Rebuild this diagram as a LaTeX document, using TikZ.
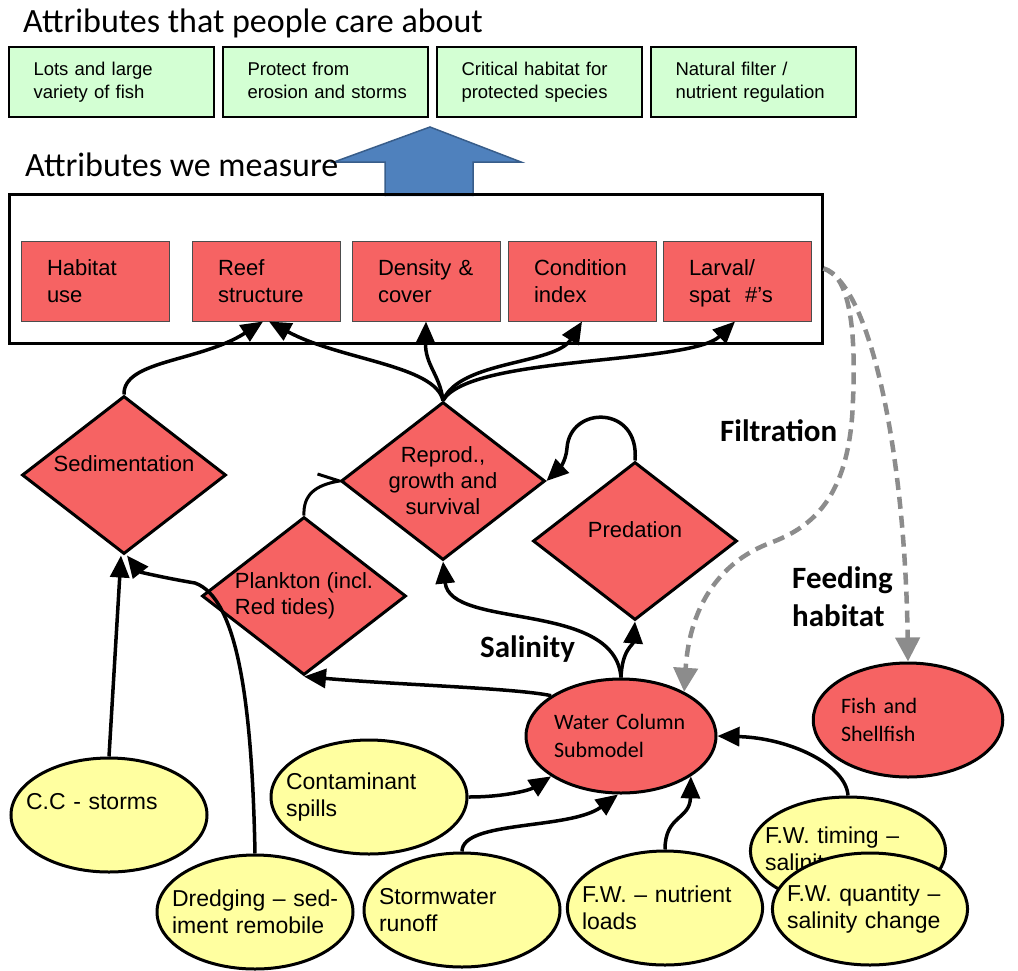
\documentclass[tikz,border=0pt]{standalone}
\usepackage{fontspec}
\setmainfont{Liberation Sans}
\newfontfamily\calibri{Carlito}
\usetikzlibrary{shapes.geometric,arrows.meta}

\definecolor{redfill}{RGB}{246,99,99}
\definecolor{yellowfill}{RGB}{255,255,160}
\definecolor{greenfill}{RGB}{211,255,211}
\definecolor{bluefill}{RGB}{79,129,189}
\definecolor{blueline}{RGB}{56,93,138}
\definecolor{flowgray}{RGB}{140,140,140}

\begin{document}
\begin{tikzpicture}[x=1pt, y=-1pt,
  care/.style={draw, line width=2.5pt, fill=greenfill, minimum width=205pt, minimum height=70pt, text width=156pt, align=left, font=\fontsize{18.5}{23}\selectfont},
  attr/.style={draw=black!70, line width=1pt, fill=redfill, minimum width=148pt, minimum height=80pt, text width=96pt, align=left, font=\fontsize{22}{27}\selectfont},
  proc/.style={diamond, aspect=1.3, draw, line width=3pt, fill=redfill, minimum width=204pt, minimum height=158pt, inner sep=0pt, align=center, font=\fontsize{22}{26}\selectfont},
  driver/.style={ellipse, draw, line width=3pt, fill=yellowfill, minimum width=196pt, minimum height=114pt, text width=166pt, inner xsep=-14pt, align=left, font=\fontsize{23}{27}\selectfont},
  submodel/.style={ellipse, draw, line width=3pt, fill=redfill, minimum width=190pt, minimum height=114pt, text width=134pt, inner xsep=0pt, align=left, font=\calibri\fontsize{22}{28}\selectfont},
  heading/.style={font=\calibri\fontsize{34}{40}\selectfont, inner sep=0pt},
  flowlabel/.style={font=\calibri\bfseries\fontsize{31}{38}\selectfont, inner sep=0pt, align=left},
  link/.style={line width=3pt},
  arr/.style={line width=3.5pt, -{Triangle[length=22pt,width=19pt]}},
  indirect/.style={line width=4.5pt, flowgray, dash pattern=on 12pt off 7pt, -{Triangle[length=24pt,width=24pt]}}
]

  \useasboundingbox (0,0) rectangle (1018,970);

  \draw[blueline, fill=bluefill, line width=1.5pt] (385,196) -- (385,162) -- (334,162) -- (430,127) -- (521,162) -- (473,162) -- (473,196);

  \node[heading, anchor=base west] (caretitle) at (23,32) {Attributes that people care about};
  \node[heading, anchor=base west] (meastitle) at (25,176) {Attributes we measure};

  \node[care] (wantfish) at (111.5,82) {Lots~and~large\\variety~of~fish};
  \node[care] (wantshore) at (325.5,82) {Protect~from\\\mbox{erosion and storms}\vphantom{y}};
  \node[care] (wanthabitat) at (539.5,82) {Critical~habitat~for\\protected~species};
  \node[care] (wantfilter) at (753.5,82) {Natural~filter~/\\nutrient~regulation};

  \node[draw, line width=3pt, minimum width=813pt, minimum height=149pt] (meas) at (415.5,268.5) {};

  \node[attr] (habuse) at (95,281) {Habitat\\use};
  \node[attr] (reef) at (266,281) {Reef\\structure};
  \node[attr] (dens) at (426,281) {Density~\&\\cover};
  \node[attr] (cond) at (582,281) {Condition\\index};
  \node[attr] (larv) at (737,281) {Larval/\\\smash{spat~~\#’s}};

  \node[proc, text depth=22pt] (sed) at (124,475) {Sedimentation};
  \node[proc] (rep) at (443,481) {Reprod.,\\growth~and\\survival};
  \node[proc, align=left] (plk) at (304,596) {Plankton~(incl.\\Red~tides)};
  \node[proc, text depth=22pt] (pred) at (635,541) {Predation};

  \node[submodel] (wc) at (621,736) {Water~Column\\Submodel};
  \node[submodel, minimum width=188pt] (fish) at (908,720) {Fish~and\\Shellfish};

  \node[driver, text depth=28pt] (cc) at (109,815) {C.C~-~storms};
  \node[driver] (dred) at (255,912) {\mbox{Dredging – sed-}\\\mbox{iment remobile}};
  \node[driver] (cont) at (369,797) {Contaminant\\spills};
  \node[driver] (storm) at (462,910) {Stormwater\\runoff};
  \node[driver, minimum width=190pt] (nutr) at (665,908) {\mbox{F.W. – nutrient}\\loads};
  \node[driver, minimum width=190pt, minimum height=108pt] (tim) at (848,851) {\mbox{F.W. timing –}\\salinity~timing};
  \node[driver, minimum width=188pt, minimum height=112pt] (quant) at (870,909) {\mbox{F.W. quantity –}\\salinity~change};

  \node[flowlabel, anchor=base west] (filt) at (720,441) {Filtration};
  \node[flowlabel, anchor=west] (feed) at (792,597) {Feeding\\habitat};
  \node[flowlabel, anchor=base west] (sal) at (480,657) {Salinity};

  \draw[arr] (sed.north) .. controls (123,360) and (200,362) .. ([xshift=-3pt]reef.south);
  \draw[arr] (rep.north) .. controls (435,365) and (340,360) .. ([xshift=3pt]reef.south);
  \draw[arr] (rep.north) .. controls (440,375) and (425,365) .. (dens.south);
  \draw[arr] (rep.north) .. controls (460,360) and (555,365) .. (cond.south);
  \draw[arr] (rep.north) .. controls (470,355) and (690,365) .. ([xshift=-2pt]larv.south);

  \draw[link] (plk.north) .. controls (303,495) and (315,485) .. (rep.west) -- ++(-22,-7);
  \draw[arr] (pred.north) .. controls (640,405) and (570,405) .. (567,448) .. controls (566,462) and (558,470) .. (rep.east);
  \draw[arr] (wc.north) .. controls (615,600) and (450,630) .. (rep.south);
  \draw[arr] (wc.north) .. controls (622,650) and (633,645) .. (pred.south);
  \draw[arr] (wc.150) .. controls (515,688) and (400,685) .. (plk.south);

  \draw[arr] (cc.north) -- ([xshift=-3pt]sed.south);
  \draw[arr] (dred.north) .. controls (252,700) and (237,598) .. (195,583) .. controls (165,578) and (140,572) .. ([xshift=3pt]sed.south);
  \draw[arr] (cont.east) .. controls (505,797) and (530,790) .. (wc.210);
  \draw[arr] (storm.north) .. controls (462,820) and (570,830) .. ([xshift=-3pt]wc.south);
  \draw[arr] (nutr.north) .. controls (665,815) and (690,820) .. (wc.330);
  \draw[arr] (tim.north) .. controls (846,765) and (790,738) .. (wc.east);

  \draw[indirect] (meas.east) .. controls (850,275) and (856,330) .. (853,400) .. controls (850,500) and (810,528) .. (770,543) .. controls (725,560) and (690,600) .. (wc.35);
  \draw[indirect] (meas.east) .. controls (870,285) and (905,450) .. (fish.north);

\end{tikzpicture}
\end{document}
